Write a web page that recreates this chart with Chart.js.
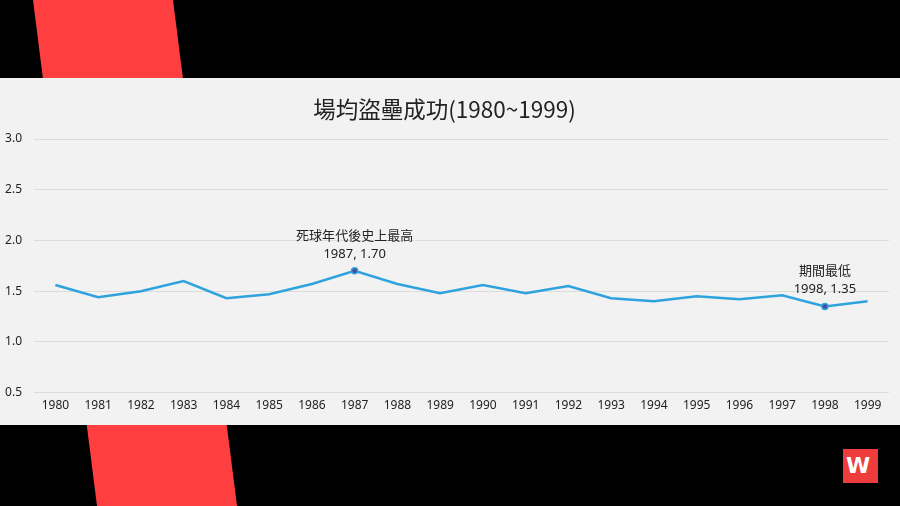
<!DOCTYPE html>
<html>
<head>
<meta charset="utf-8">
<script src="https://cdn.jsdelivr.net/npm/chart.js@4.4.1/dist/chart.umd.min.js"></script>
<style>
  html, body { margin: 0; padding: 0; }
  body { width: 900px; height: 506px; background: #000; position: relative; overflow: hidden; }
  #stripe { position: absolute; left: 0; top: 0; width: 900px; height: 506px; background: #ff3f3f;
    clip-path: polygon(33px 0, 173px 0, 237px 506px, 97px 506px); }
  #panel { position: absolute; left: 0; top: 78px; width: 900px; height: 347px; background: #f2f2f2; }
  #logo { position: absolute; left: 843px; top: 449px; width: 35px; height: 34px; background: #ee3b3b;
    color: #fff; font: bold 22px "DejaVu Sans", sans-serif; line-height: 34px; text-indent: 3px; }
</style>
</head>
<body>
<div id="stripe"></div>
<div id="panel"><canvas id="chart" width="900" height="347"></canvas></div>
<div id="logo">W</div>
<script>
// 場均盜壘成功 1980-1999
const years = ['1980','1981','1982','1983','1984','1985','1986','1987','1988','1989',
               '1990','1991','1992','1993','1994','1995','1996','1997','1998','1999'];
const steals = [1.56, 1.44, 1.50, 1.60, 1.43, 1.47, 1.57, 1.70, 1.57, 1.48,
                1.56, 1.48, 1.55, 1.43, 1.40, 1.45, 1.42, 1.46, 1.35, 1.40];
const yTicks = [0.5, 1.0, 1.5, 2.0, 2.5, 3.0];
const notes = [
  { year: '1987', text: '死球年代後史上最高' },
  { year: '1998', text: '期間最低' }
];

const noteIdx = notes.map(n => years.indexOf(n.year));
const FONT = '"Noto Sans", "Noto Sans CJK TC", sans-serif';

// draw the text above highlighted points
const notePlugin = {
  id: 'notes',
  afterDatasetsDraw(chart) {
    const ctx = chart.ctx;
    const meta = chart.getDatasetMeta(0);
    ctx.save();
    ctx.fillStyle = '#222';
    ctx.textAlign = 'center';
    ctx.textBaseline = 'middle';
    notes.forEach((n, k) => {
      const i = noteIdx[k];
      const pt = meta.data[i];
      ctx.font = '13px "Noto Sans CJK TC", sans-serif';
      ctx.fillText(n.text, pt.x, pt.y - 36);
      ctx.font = '13px ' + FONT;
      ctx.fillText(n.year + ', ' + steals[i].toFixed(2), pt.x, pt.y - 17);
    });
    ctx.restore();
  }
};

new Chart(document.getElementById('chart'), {
  type: 'line',
  data: {
    labels: years,
    datasets: [{
      data: steals,
      borderColor: '#2ea3de',
      borderWidth: 2.5,
      tension: 0,
      pointRadius: c => noteIdx.includes(c.dataIndex) ? 3 : 0,
      pointHoverRadius: 0,
      pointBackgroundColor: '#4c4a9c',
      pointBorderColor: '#2ea3de',
      pointBorderWidth: 1.5
    }]
  },
  options: {
    responsive: false,
    animation: false,
    layout: { padding: { left: 0, right: 11, top: 0, bottom: 6 } },
    plugins: {
      legend: { display: false },
      tooltip: { enabled: false },
      title: {
        display: true,
        text: '場均盜壘成功(1980~1999)',
        color: '#222',
        font: { family: '"Noto Sans CJK TC", sans-serif', size: 22.5, weight: 'normal' },
        padding: { top: 18, bottom: 16 }
      }
    },
    scales: {
      x: {
        offset: true,
        grid: { display: false, drawTicks: false },
        border: { display: false },
        ticks: { color: '#222', font: { family: FONT, size: 12 }, padding: 6, maxRotation: 0, autoSkip: false }
      },
      y: {
        min: 0.5,
        max: 3.0,
        afterBuildTicks: s => { s.ticks = yTicks.map(v => ({ value: v })); },
        afterFit: s => { s.width = 34; },
        grid: { color: '#dcdcdc', drawTicks: false },
        border: { display: false },
        ticks: { color: '#222', font: { family: FONT, size: 12 }, padding: 12,
                 callback: v => v.toFixed(1) }
      }
    }
  },
  plugins: [notePlugin]
});
</script>
</body>
</html>
